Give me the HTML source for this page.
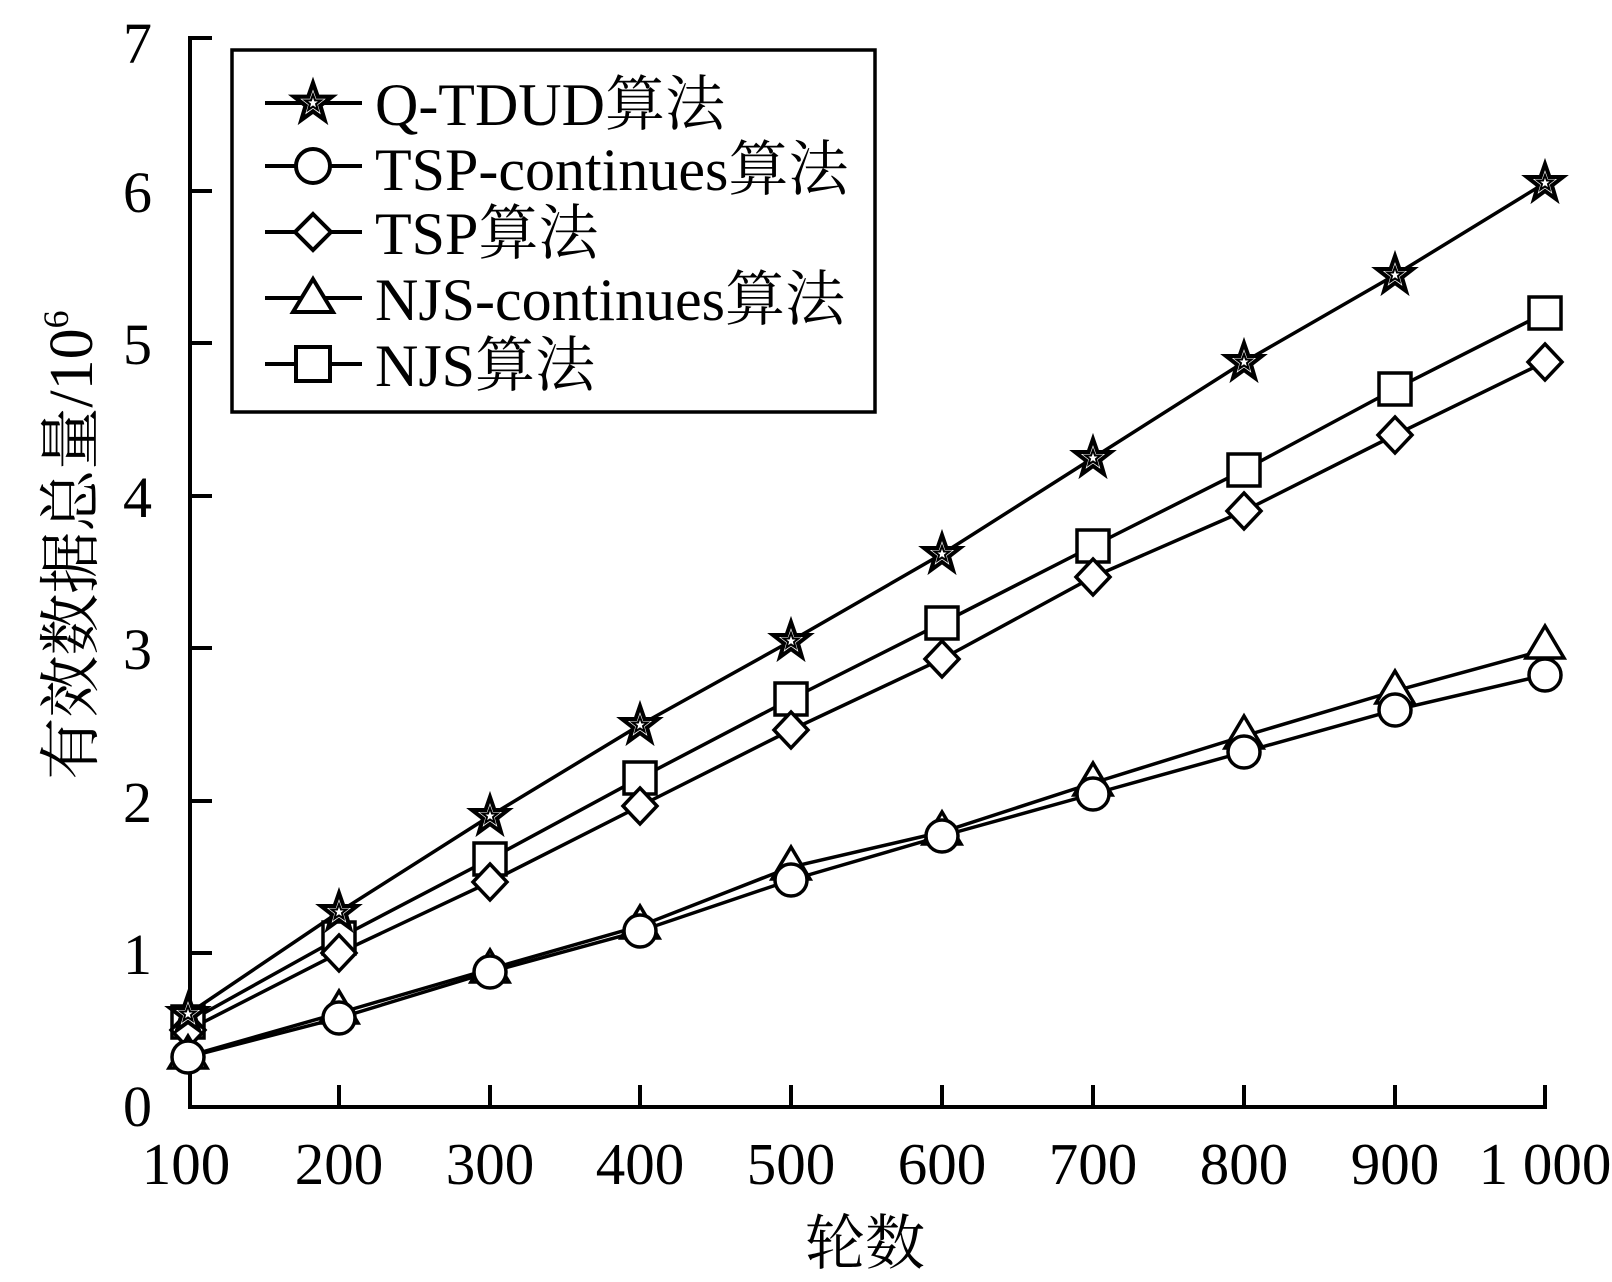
<!DOCTYPE html>
<html><head><meta charset="utf-8"><style>body{margin:0;background:#fff}svg{display:block}text{font-family:"Liberation Serif","Noto Serif CJK SC",serif;fill:#000}</style></head>
<body>
<svg width="1612" height="1282" viewBox="0 0 1612 1282" xmlns="http://www.w3.org/2000/svg">
<defs>
<symbol id="star" viewBox="-20 -20 40 40" overflow="visible"><polygon points="0,-19 4.5,-6 18,-6 7,2.5 11,16 0,8 -11,16 -7,2.5 -18,-6 -4.5,-6" fill="#fff" stroke="#000" stroke-width="4"/><polygon points="0,-8 2,-2.5 7.5,-2.5 3,1 4.5,6.5 0,3.5 -4.5,6.5 -3,1 -7.5,-2.5 -2,-2.5" fill="#fff" stroke="#000" stroke-width="2"/></symbol>
</defs>
<g stroke="#000" stroke-width="4" fill="none">
<polyline points="212,38 190,38 190,1107 1545,1107 1545,1085"/>
</g>
<g stroke="#000" stroke-width="4">
<line x1="190" y1="191" x2="212" y2="191"/><line x1="190" y1="343" x2="212" y2="343"/><line x1="190" y1="496" x2="212" y2="496"/><line x1="190" y1="648" x2="212" y2="648"/><line x1="190" y1="801" x2="212" y2="801"/><line x1="190" y1="953" x2="212" y2="953"/>
<line x1="339" y1="1107" x2="339" y2="1085"/><line x1="490" y1="1107" x2="490" y2="1085"/><line x1="640" y1="1107" x2="640" y2="1085"/><line x1="791" y1="1107" x2="791" y2="1085"/><line x1="942" y1="1107" x2="942" y2="1085"/><line x1="1093" y1="1107" x2="1093" y2="1085"/><line x1="1244" y1="1107" x2="1244" y2="1085"/><line x1="1395" y1="1107" x2="1395" y2="1085"/>
</g>
<g font-size="58" text-anchor="end">
<text x="152" y="63">7</text><text x="152" y="212">6</text><text x="152" y="364">5</text><text x="152" y="517">4</text><text x="152" y="669">3</text><text x="152" y="822">2</text><text x="152" y="974">1</text><text x="152" y="1126">0</text>
</g>
<g font-size="59" text-anchor="middle">
<text x="186" y="1184">100</text><text x="339" y="1184">200</text><text x="490" y="1184">300</text><text x="640" y="1184">400</text><text x="791" y="1184">500</text><text x="942" y="1184">600</text><text x="1093" y="1184">700</text><text x="1244" y="1184">800</text><text x="1395" y="1184">900</text><text x="1545" y="1184">1 000</text>
</g>
<text x="865" y="1264" font-size="60" text-anchor="middle">轮数</text>
<text transform="translate(92,545) rotate(-90)" font-size="62" text-anchor="middle">有效数据总量/10<tspan font-size="36" dy="-24">6</tspan></text>
<g fill="none" stroke="#000" stroke-width="3.5">
<polyline points="188,1014 339,912 490,816 640,725 791,641 942,554 1093,458 1244,362 1395,275 1545,183"/>
<polyline points="188,1022 339,938 490,859 640,778 791,699 942,623 1093,546 1244,470 1395,389 1545,313"/>
<polyline points="188,1030 339,953 490,882 640,806 791,730 942,659 1093,577 1244,511 1395,435 1545,362"/>
<polyline points="188,1056 339,1013 490,969 640,926 791,867 942,832 1093,783 1244,736 1395,691 1545,650"/>
<polyline points="188,1057 339,1018 490,972 640,931 791,880 942,836 1093,794 1244,752 1395,710 1545,675"/>
</g>
<g fill="#fff" stroke="#000" stroke-width="3.5">
<g><rect x="172" y="1006" width="32" height="32"/><rect x="323" y="922" width="32" height="32"/><rect x="474" y="843" width="32" height="32"/><rect x="624" y="762" width="32" height="32"/><rect x="775" y="683" width="32" height="32"/><rect x="926" y="607" width="32" height="32"/><rect x="1077" y="530" width="32" height="32"/><rect x="1228" y="454" width="32" height="32"/><rect x="1379" y="373" width="32" height="32"/><rect x="1529" y="297" width="32" height="32"/></g>
<g><polygon points="188,1012 205,1030 188,1048 171,1030"/><polygon points="339,935 356,953 339,971 322,953"/><polygon points="490,864 507,882 490,900 473,882"/><polygon points="640,788 657,806 640,824 623,806"/><polygon points="791,712 808,730 791,748 774,730"/><polygon points="942,641 959,659 942,677 925,659"/><polygon points="1093,559 1110,577 1093,595 1076,577"/><polygon points="1244,493 1261,511 1244,529 1227,511"/><polygon points="1395,417 1412,435 1395,453 1378,435"/><polygon points="1545,344 1562,362 1545,380 1528,362"/></g>
<g><polygon points="188,1036 207,1068 169,1068"/><polygon points="339,991 358,1023 320,1023"/><polygon points="490,950 509,982 471,982"/><polygon points="640,906 659,938 621,938"/><polygon points="791,847 810,879 772,879"/><polygon points="942,812 961,844 923,844"/><polygon points="1093,763 1112,795 1074,795"/><polygon points="1244,716 1263,748 1225,748"/><polygon points="1395,671 1414,703 1376,703"/><polygon points="1545,626 1564,658 1526,658"/></g>
<g><circle cx="188" cy="1057" r="16"/><circle cx="339" cy="1018" r="16"/><circle cx="490" cy="972" r="16"/><circle cx="640" cy="931" r="16"/><circle cx="791" cy="880" r="16"/><circle cx="942" cy="836" r="16"/><circle cx="1093" cy="794" r="16"/><circle cx="1244" cy="752" r="16"/><circle cx="1395" cy="710" r="16"/><circle cx="1545" cy="675" r="16"/></g>
</g>
<g>
<use href="#star" x="168" y="994" width="40" height="40"/><use href="#star" x="319" y="892" width="40" height="40"/><use href="#star" x="470" y="796" width="40" height="40"/><use href="#star" x="620" y="705" width="40" height="40"/><use href="#star" x="771" y="621" width="40" height="40"/><use href="#star" x="922" y="534" width="40" height="40"/><use href="#star" x="1073" y="438" width="40" height="40"/><use href="#star" x="1224" y="342" width="40" height="40"/><use href="#star" x="1375" y="255" width="40" height="40"/><use href="#star" x="1525" y="163" width="40" height="40"/>
</g>
<rect x="232" y="50" width="643" height="362" fill="#fff" stroke="#000" stroke-width="3.5"/>
<g stroke="#000" stroke-width="4" fill="#fff">
<line x1="265" y1="103" x2="362" y2="103"/><line x1="265" y1="166" x2="362" y2="166"/><line x1="265" y1="232" x2="362" y2="232"/><line x1="265" y1="298" x2="362" y2="298"/><line x1="265" y1="364" x2="362" y2="364"/>
<circle cx="313" cy="166" r="17"/>
<polygon points="313,214 331,232 313,250 295,232"/>
<polygon points="313,279 333,312 293,312"/>
<rect x="296" y="347" width="34" height="34"/>
</g>
<use href="#star" x="292" y="82" width="42" height="42"/>
<g font-size="60">
<text x="375" y="125">Q-TDUD算法</text>
<text x="375" y="190">TSP-continues算法</text>
<text x="375" y="254">TSP算法</text>
<text x="375" y="320">NJS-continues算法</text>
<text x="375" y="386">NJS算法</text>
</g>
</svg>
</body></html>
